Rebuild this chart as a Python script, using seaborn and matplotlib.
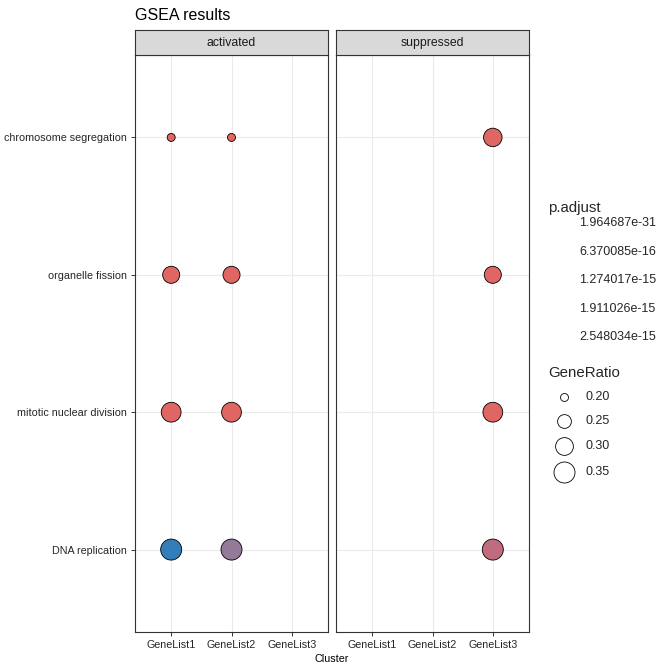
import numpy as np
import pandas as pd
import matplotlib
matplotlib.use("Agg")
import matplotlib.pyplot as plt
import seaborn as sns
from matplotlib.colors import LinearSegmentedColormap

# ---------------- data ----------------
terms = ["chromosome segregation", "organelle fission",
         "mitotic nuclear division", "DNA replication"]
clusters = ["GeneList1", "GeneList2", "GeneList3"]
facets = ["activated", "suppressed"]

point_facet = ["activated"] * 8 + ["suppressed"] * 4
point_term = ["chromosome segregation", "chromosome segregation",
              "organelle fission", "organelle fission",
              "mitotic nuclear division", "mitotic nuclear division",
              "DNA replication", "DNA replication",
              "chromosome segregation", "organelle fission",
              "mitotic nuclear division", "DNA replication"]
point_cluster = ["GeneList1", "GeneList2"] * 4 + ["GeneList3"] * 4
gene_ratio = [0.19, 0.19, 0.29, 0.29, 0.33, 0.33, 0.385, 0.39,
              0.31, 0.29, 0.33, 0.39]
p_adjust = [1.964687e-31, 1.964687e-31, 1.964687e-31, 1.964687e-31,
            1.964687e-31, 1.964687e-31, 2.548034e-15, 1.274017e-15,
            1.964687e-31, 1.964687e-31, 1.964687e-31, 6.370085e-16]

padj_breaks = ["1.964687e-31", "6.370085e-16", "1.274017e-15",
               "1.911026e-15", "2.548034e-15"]
ratio_breaks = [0.20, 0.25, 0.30, 0.35]
ratio_labels = ["0.20", "0.25", "0.30", "0.35"]

df = pd.DataFrame({"facet": point_facet, "term": point_term,
                   "cluster": point_cluster, "GeneRatio": gene_ratio,
                   "p.adjust": p_adjust})
df["x"] = pd.Categorical(df["cluster"], categories=clusters).codes
df["y"] = pd.Categorical(df["term"], categories=terms).codes

# ---------------- style ----------------
sns.set_style("white")
plt.rcParams["font.family"] = ["Liberation Sans", "DejaVu Sans"]

cmap = LinearSegmentedColormap.from_list(
    "padj", [(0.0, "#E06663"), (0.25, "#C06C7E"), (0.5, "#937A98"),
             (1.0, "#327EBA")])
hue_norm = (1.964687e-31, 2.548034e-15)
SMIN, SMAX = 33.0, 229.0
size_norm = (0.20, 0.35)


def size_of(g):
    return SMIN + (g - size_norm[0]) / (size_norm[1] - size_norm[0]) * (SMAX - SMIN)


W, H = 672, 671
fig = plt.figure(figsize=(6.72, 6.71), dpi=100)

panel_left = [135, 336]
panel_w = 193
top, bottom = 55, 632
grid_c = "#EBEBEB"
border_c = "#333333"
tick_fs = 7.75

for i, fac in enumerate(facets):
    ax = fig.add_axes([panel_left[i] / W, 1 - bottom / H, panel_w / W,
                       (bottom - top) / H])
    sub = df[df["facet"] == fac]
    for k in range(len(clusters)):
        ax.axvline(k, color=grid_c, lw=0.8, zorder=0)
    for k in range(len(terms)):
        ax.axhline(k, color=grid_c, lw=0.8, zorder=0)
    sns.scatterplot(data=sub, x="x", y="y", hue="p.adjust", palette=cmap,
                    hue_norm=hue_norm, size="GeneRatio", sizes=(SMIN, SMAX),
                    size_norm=size_norm, edgecolor="black", linewidth=0.6,
                    legend=False, ax=ax, zorder=3)
    ax.set_xlim(-0.6, 2.6)
    ax.set_ylim(3.6, -0.6)
    ax.set_xticks(range(len(clusters)))
    ax.set_xticklabels(clusters)
    ax.set_yticks(range(len(terms)))
    if i == 0:
        ax.set_yticklabels(terms)
    else:
        ax.set_yticklabels([])
        ax.tick_params(axis="y", length=0)
    ax.set_xlabel("")
    ax.set_ylabel("")
    ax.tick_params(axis="both", labelsize=tick_fs, labelcolor="#262626",
                   color=border_c, length=3, width=0.7, pad=2.5,
                   left=(i == 0), bottom=True)
    for s in ax.spines.values():
        s.set_color(border_c)
        s.set_linewidth(0.8)
    ax.grid(False)

    # facet strip
    sax = fig.add_axes([panel_left[i] / W, 1 - top / H, panel_w / W, 25 / H])
    sax.set_facecolor("#D9D9D9")
    sax.set_xticks([])
    sax.set_yticks([])
    for s in sax.spines.values():
        s.set_color(border_c)
        s.set_linewidth(0.8)
    sax.text(0.5, 0.47, fac, ha="center", va="center", fontsize=8.8,
             color="#1A1A1A", transform=sax.transAxes)

# title and axis title
fig.text(135 / W, 1 - 16 / H, "GSEA results", ha="left", va="center",
         fontsize=11.5, color="black")
fig.text(332 / W, 1 - 659 / H, "Cluster", ha="center", va="center",
         fontsize=tick_fs, color="black")

# legends (pixel-coordinate overlay)
lax = fig.add_axes([0, 0, 1, 1], facecolor="none")
lax.set_xlim(0, W)
lax.set_ylim(H, 0)
lax.axis("off")

lax.text(548, 208, "p.adjust", ha="left", va="center", fontsize=10.8)
for lab, yy in zip(padj_breaks, [223, 252, 280, 309, 337]):
    lax.text(579, yy, lab, ha="left", va="center", fontsize=9.0)

lax.text(548, 373, "GeneRatio", ha="left", va="center", fontsize=10.8)
for g, lab, yy in zip(ratio_breaks, ratio_labels, [397, 421, 446, 472]):
    lax.scatter([564], [yy], s=size_of(g), facecolor="white",
                edgecolor="black", linewidth=0.6)
    lax.text(586, yy, lab, ha="left", va="center", fontsize=9.0)

fig.savefig("out.png", dpi=100, facecolor="white")
